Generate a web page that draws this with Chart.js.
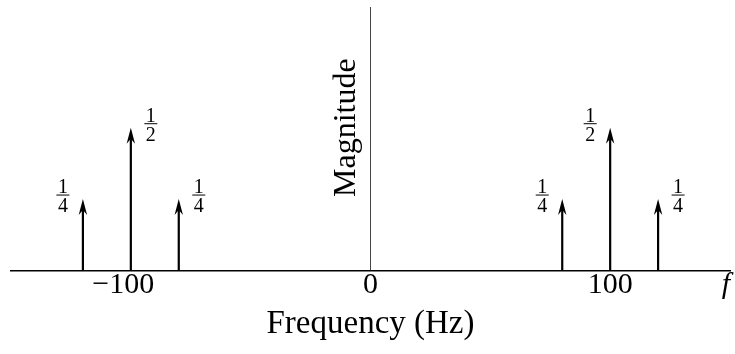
<!DOCTYPE html>
<html>
<head>
<meta charset="utf-8">
<script src="https://cdn.jsdelivr.net/npm/chart.js@4"></script>
<style>
  body { margin: 0; background: #fff; }
  #wrap { width: 735px; height: 354px; }
</style>
</head>
<body>
<div id="wrap"><canvas id="spectrum"></canvas></div>
<script>
// impulse frequencies (Hz) and their magnitudes
const freqs = [-120, -100, -80, 80, 100, 120];
const mags = [0.25, 0.5, 0.25, 0.25, 0.5, 0.25];
// magnitude labels written as fractions
const magNum = ["1", "1", "1", "1", "1", "1"];
const magDen = ["4", "2", "4", "4", "2", "4"];
// x axis ticks
const tickValues = [-100, 0, 100];

const SERIF = "'Liberation Serif', 'DejaVu Serif', serif";

const arrows = {
    id: "arrows",
    afterDatasetsDraw(chart) {
        const ctx = chart.ctx;
        const x = chart.scales.x;
        const y = chart.scales.y;
        const base = y.getPixelForValue(0);
        const area = chart.chartArea;

        ctx.save();
        // stems + arrow heads
        freqs.forEach((f, i) => {
            const px = x.getPixelForValue(f);
            const tip = y.getPixelForValue(mags[i]);
            ctx.strokeStyle = "#000";
            ctx.lineWidth = 2.2;
            ctx.beginPath();
            ctx.moveTo(px, base);
            ctx.lineTo(px, tip + 10);
            ctx.stroke();
            ctx.fillStyle = "#000";
            ctx.beginPath();
            ctx.moveTo(px, tip);
            ctx.lineTo(px - 4.2, tip + 16);
            ctx.lineTo(px, tip + 11);
            ctx.lineTo(px + 4.2, tip + 16);
            ctx.closePath();
            ctx.fill();

            // side of the label: big peaks toward zero, side ones outward
            let peak = i;
            freqs.forEach((g, j) => {
                if (Math.abs(g - f) <= 20 && mags[j] > mags[peak]) peak = j;
            });
            const side = peak === i ? -Math.sign(f) : Math.sign(f - freqs[peak]);
            const lx = px + side * 20;
            const barY = tip - 4;
            ctx.font = "20px " + SERIF;
            ctx.textAlign = "center";
            ctx.textBaseline = "alphabetic";
            ctx.fillText(magNum[i], lx, barY - 2);
            ctx.textBaseline = "top";
            ctx.fillText(magDen[i], lx, barY + 2);
            ctx.lineWidth = 1;
            ctx.beginPath();
            ctx.moveTo(lx - 6.5, barY);
            ctx.lineTo(lx + 6.5, barY);
            ctx.stroke();
        });

        // vertical axis title
        const zx = x.getPixelForValue(0);
        ctx.save();
        ctx.translate(zx - 24, (area.top + area.bottom) / 2 - 11);
        ctx.rotate(-Math.PI / 2);
        ctx.font = "32px " + SERIF;
        ctx.textAlign = "center";
        ctx.textBaseline = "middle";
        ctx.fillStyle = "#000";
        ctx.fillText("Magnitude", 0, 0);
        ctx.restore();

        // variable name at the right end of the axis
        ctx.font = "italic 30px " + SERIF;
        ctx.textAlign = "center";
        ctx.textBaseline = "middle";
        ctx.fillText("f", area.right - 4, base + 15);
        ctx.restore();
    }
};

new Chart(document.getElementById("spectrum"), {
    type: "scatter",
    data: {
        datasets: [{
            data: freqs.map((f, i) => ({ x: f, y: mags[i] })),
            pointRadius: 0,
            showLine: false,
        }],
    },
    options: {
        responsive: true,
        maintainAspectRatio: false,
        animation: false,
        layout: { padding: { left: 11, right: 5, top: 7, bottom: 10 } },
        plugins: { legend: { display: false }, tooltip: { enabled: false } },
        scales: {
            x: {
                type: "linear",
                min: -150,
                max: 150,
                position: "bottom",
                afterBuildTicks: s => { s.ticks = tickValues.map(v => ({ value: v })); },
                border: { display: true, color: "#000", width: 1.5 },
                grid: {
                    drawTicks: false,
                    color: c => (c.tick && c.tick.value === 0 ? "#444" : "rgba(0,0,0,0)"),
                    lineWidth: 1,
                },
                ticks: {
                    padding: 0,
                    color: "#000",
                    font: { family: SERIF, size: 30, lineHeight: 1 },
                    maxRotation: 0,
                    // minus sign hangs left of the centred digits
                    callback: v => (v < 0 ? "\u2212" + Math.abs(v) + "  " : String(v)),
                },
                title: {
                    display: true,
                    text: "Frequency (Hz)",
                    color: "#000",
                    font: { family: SERIF, size: 33, lineHeight: 1.2 },
                    padding: { top: 4, bottom: 0 },
                },
            },
            y: {
                display: false,
                min: 0,
                max: 0.923,
            },
        },
    },
    plugins: [arrows],
});
</script>
</body>
</html>
